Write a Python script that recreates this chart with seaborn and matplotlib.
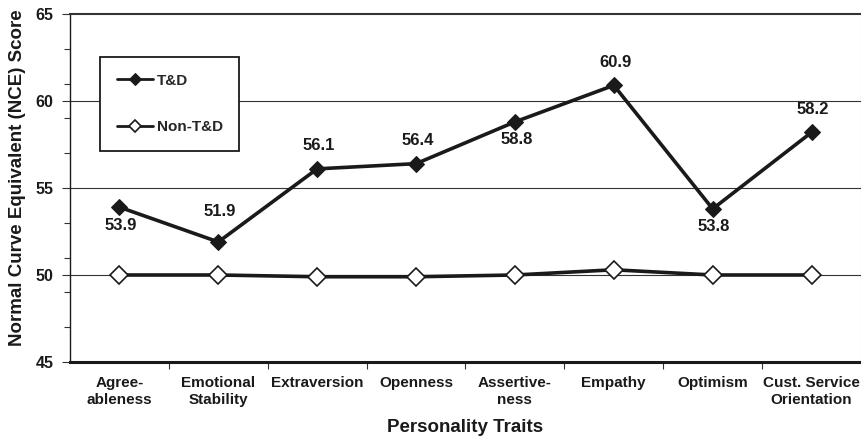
import matplotlib
matplotlib.use("Agg")
import matplotlib.pyplot as plt
import seaborn as sns
import pandas as pd
from matplotlib.ticker import MultipleLocator, FixedLocator

categories = ["Agree-\nableness", "Emotional\nStability", "Extraversion", "Openness",
              "Assertive-\nness", "Empathy", "Optimism", "Cust. Service\nOrientation"]
td_values = [53.9, 51.9, 56.1, 56.4, 58.8, 60.9, 53.8, 58.2]
nontd_values = [50.0, 50.0, 49.9, 49.9, 50.0, 50.3, 50.0, 50.0]
label_pos = ["below", "above", "above", "above", "below", "above", "below", "above"]

sns.set_theme(style="white")
plt.rcParams['font.family'] = ['Liberation Sans', 'DejaVu Sans']
plt.rcParams['font.weight'] = 'bold'

fig = plt.figure(figsize=(8.62, 4.41), dpi=100)
ax = fig.add_axes([70/862, 79/441, 791/862, 348/441])

idx = list(range(len(categories)))
df = pd.DataFrame({"x": idx * 2,
                   "y": td_values + nontd_values,
                   "series": ["T&D"] * len(idx) + ["Non-T&D"] * len(idx)})

sns.lineplot(data=df[df.series == "T&D"], x="x", y="y", ax=ax, color="#1a1a1a",
             linewidth=2.6, marker="D", markersize=8.5, markerfacecolor="#1a1a1a",
             markeredgecolor="#1a1a1a", label="T&D", zorder=4)
sns.lineplot(data=df[df.series == "Non-T&D"], x="x", y="y", ax=ax, color="#1a1a1a",
             linewidth=2.6, marker="D", markersize=9.5, markerfacecolor="white",
             markeredgecolor="#1a1a1a", markeredgewidth=1.2, label="Non-T&D", zorder=4)

for i, (v, p) in enumerate(zip(td_values, label_pos)):
    if p == "above":
        dy = 30 if i == 1 else 23
    else:
        dy = -18
    ax.annotate(f"{v:.1f}", (i, v), xytext=(1, dy * 0.72), textcoords="offset points",
                ha="center", va="center", fontsize=12, fontweight="bold",
                color="#1a1a1a", zorder=5)

ax.set_xlim(-0.5, len(categories) - 0.5)
ax.set_ylim(45, 65)
ax.yaxis.set_major_locator(MultipleLocator(5))
ax.yaxis.set_minor_locator(FixedLocator([47, 49, 51, 53, 57, 59, 61, 63]))
ax.set_xticks(idx)
ax.set_xticklabels(categories, fontsize=11, fontweight="bold", color="#1a1a1a",
                   linespacing=1.3)
ax.xaxis.set_minor_locator(FixedLocator([i + 0.5 for i in idx[:-1]]))
ax.tick_params(axis="x", which="major", length=0, pad=10)
ax.tick_params(axis="x", which="minor", bottom=True, length=5, width=0.8, color="#333333")
ax.tick_params(axis="y", which="major", left=True, length=6, width=0.8, color="#333333",
               labelsize=11.5, labelcolor="#1a1a1a", pad=6)
ax.tick_params(axis="y", which="minor", left=True, length=4, width=0.8, color="#333333")
for lbl in ax.get_yticklabels():
    lbl.set_fontweight("bold")

for yv in [50, 55, 60]:
    ax.axhline(yv, color="#333333", linewidth=0.8, zorder=1)

ax.spines["left"].set_color("#1a1a1a")
ax.spines["left"].set_linewidth(1.0)
ax.spines["bottom"].set_color("#1a1a1a")
ax.spines["bottom"].set_linewidth(2.2)
ax.spines["top"].set_color("#333333")
ax.spines["top"].set_linewidth(1.5)
ax.spines["right"].set_color("#bbbbbb")
ax.spines["right"].set_linewidth(0.8)

ax.set_xlabel("Personality Traits", fontsize=13.5, fontweight="bold", color="#1a1a1a")
ax.xaxis.set_label_coords(0.5, -(428 - 362) / 348, transform=ax.transAxes)
ax.xaxis.label.set_va("center")
ax.set_ylabel("Normal Curve Equivalent (NCE) Score", fontsize=13.5, fontweight="bold",
              color="#1a1a1a")
ax.yaxis.set_label_coords(-(70 - 18) / 791, (362 - 178) / 348, transform=ax.transAxes)
ax.yaxis.label.set_va("center")

leg = ax.legend(loc="upper left", bbox_to_anchor=(30/791, 1 - 43/348), frameon=True,
                fancybox=False, edgecolor="#1a1a1a", framealpha=1, fontsize=11,
                handlelength=2.4, handletextpad=0.2, labelspacing=2.1,
                borderpad=1.1, borderaxespad=0)
leg.get_frame().set_linewidth(1.3)
for t in leg.get_texts():
    t.set_fontweight("bold")
for h in leg.get_lines():
    h.set_linewidth(2.0)
    h.set_markersize(6)
leg.set_zorder(6)

fig.savefig("out.png", dpi=100)
